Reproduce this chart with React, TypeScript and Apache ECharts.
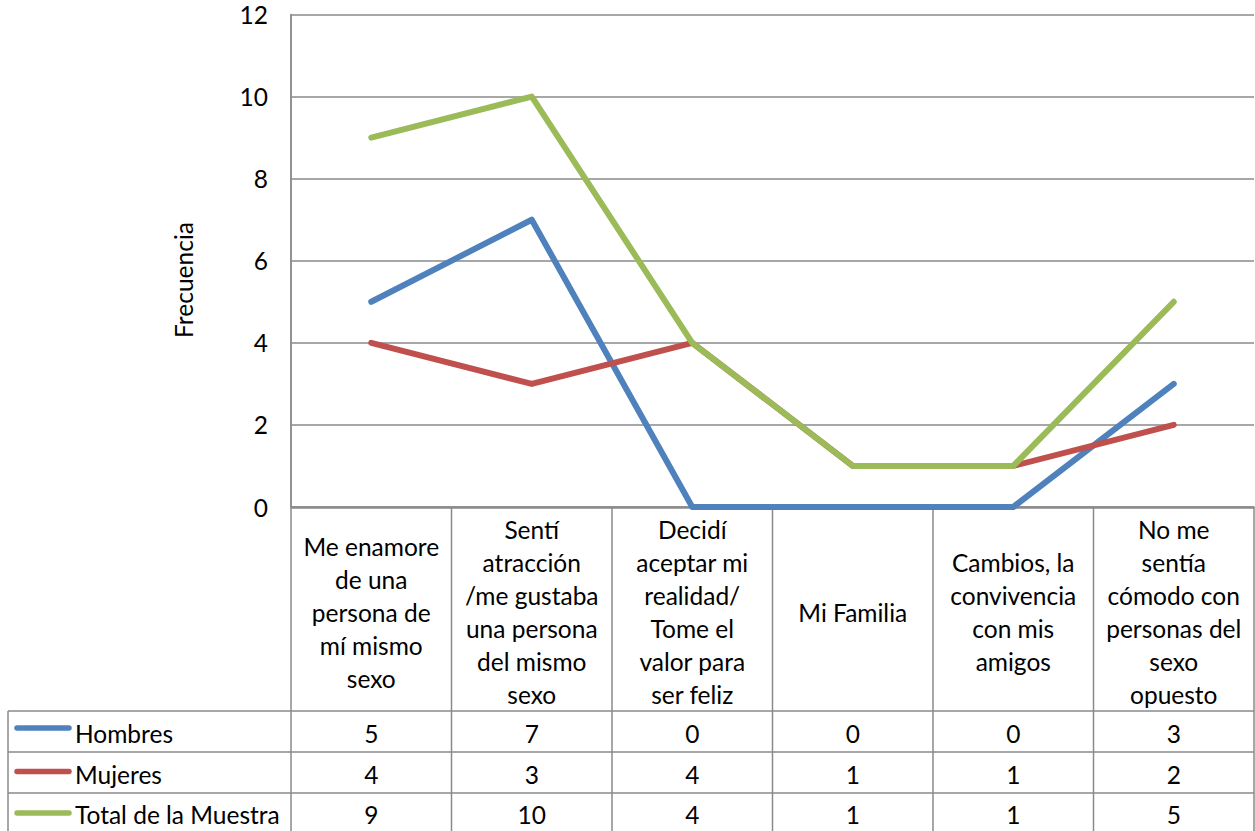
import React, { useEffect, useRef } from "react";
import * as echarts from "echarts";

const categories = [
  "Me enamore\nde una\npersona de\nmí mismo\nsexo",
  "Sentí\natracción\n/me gustaba\nuna persona\ndel mismo\nsexo",
  "Decidí\naceptar mi\nrealidad/\nTome el\nvalor para\nser feliz",
  "Mi Familia",
  "Cambios, la\nconvivencia\ncon mis\namigos",
  "No me\nsentía\ncómodo con\npersonas del\nsexo\nopuesto",
];
const seriesNames = ["Hombres", "Mujeres", "Total de la Muestra"];
const hombres = [5, 7, 0, 0, 0, 3];
const mujeres = [4, 3, 4, 1, 1, 2];
const total = [9, 10, 4, 1, 1, 5];
const seriesColors = ["#4F81BD", "#C0504D", "#9BBB59"];
const yTicks = { min: 0, max: 12, interval: 2 };
const yAxisTitle = "Frecuencia";

const W = 1255;
const H = 831;
const FONT = "Lato, 'DejaVu Sans', sans-serif";
const FS = 24.5;
const GRID_LEFT = 291;
const GRID_RIGHT_X = 1254;
const GRID_TOP = 14.5;
const AXIS_Y = 507;
const ROW_LINES = [711, 752, 793];
const ROW_CENTERS = [733.5, 774.5, 814.5];
const KEY_Y = [728, 771.5, 813];
const BORDER = "#8a8a8a";

export default function App() {
  const ref = useRef<HTMLDivElement>(null);
  useEffect(() => {
    if (!ref.current) return;
    const chart = echarts.init(ref.current, undefined, { renderer: "svg" });
    const values = [hombres, mujeres, total];
    const n = categories.length;
    const bandW = (GRID_RIGHT_X - GRID_LEFT) / n;

    const graphics: any[] = [];
    const ln = (x1: number, y1: number, x2: number, y2: number) =>
      graphics.push({
        type: "line",
        silent: true,
        shape: { x1, y1, x2, y2 },
        style: { stroke: BORDER, lineWidth: 1.5 },
      });
    ROW_LINES.forEach((y) => ln(8, y, GRID_RIGHT_X, y));
    ln(GRID_LEFT, AXIS_Y + 1, GRID_RIGHT_X, AXIS_Y + 1);
    ln(8, ROW_LINES[0], 8, H);
    for (let i = 0; i <= n; i++) {
      const x = GRID_LEFT + i * bandW;
      ln(x, i === 0 ? GRID_TOP : AXIS_Y, x, H);
    }
    seriesNames.forEach((name, i) => {
      graphics.push({
        type: "line",
        silent: true,
        shape: { x1: 17, y1: KEY_Y[i], x2: 69, y2: KEY_Y[i] },
        style: { stroke: seriesColors[i], lineWidth: 5.5, lineCap: "round" },
      });
      graphics.push({
        type: "text",
        silent: true,
        x: 75,
        y: ROW_CENTERS[i],
        style: {
          text: name,
          fontFamily: FONT,
          fontSize: FS,
          fill: "#000",
          verticalAlign: "middle",
          align: "left",
        },
      });
    });
    graphics.push({
      type: "text",
      silent: true,
      x: 183,
      y: 280,
      rotation: Math.PI / 2,
      style: {
        text: yAxisTitle,
        fontFamily: FONT,
        fontSize: FS,
        fill: "#000",
        align: "center",
        verticalAlign: "middle",
      },
    });

    const valueAxes = values.map((vals, i) => ({
      type: "category",
      gridIndex: 0,
      position: "bottom",
      data: categories,
      boundaryGap: true,
      axisLine: { show: false },
      axisTick: { show: false },
      splitLine: { show: false },
      axisLabel: {
        interval: 0,
        margin: ROW_CENTERS[i] - AXIS_Y,
        verticalAlign: "middle",
        fontFamily: FONT,
        fontSize: FS,
        color: "#000",
        formatter: (_v: string, idx: number) => String(vals[idx]),
      },
    }));

    chart.setOption({
      animation: false,
      textStyle: { fontFamily: FONT },
      grid: {
        left: GRID_LEFT,
        right: W - GRID_RIGHT_X,
        top: GRID_TOP,
        bottom: H - AXIS_Y,
        containLabel: false,
      },
      xAxis: [
        {
          type: "category",
          gridIndex: 0,
          position: "bottom",
          data: categories,
          boundaryGap: true,
          axisLine: { show: true, lineStyle: { color: BORDER, width: 1.5 } },
          axisTick: { show: false },
          splitLine: { show: false },
          axisLabel: {
            interval: 0,
            margin: 612 - AXIS_Y,
            verticalAlign: "middle",
            align: "center",
            fontFamily: FONT,
            fontSize: FS,
            lineHeight: 33,
            color: "#000",
          },
        },
        ...valueAxes,
      ],
      yAxis: {
        type: "value",
        min: yTicks.min,
        max: yTicks.max,
        interval: yTicks.interval,
        axisLine: { show: true, lineStyle: { color: BORDER, width: 1.5 } },
        axisTick: { show: false },
        splitLine: { show: true, lineStyle: { color: BORDER, width: 1.5 } },
        axisLabel: {
          margin: 23,
          fontFamily: FONT,
          fontSize: FS,
          color: "#000",
        },
      },
      series: values.map((vals, i) => ({
        name: seriesNames[i],
        type: "line",
        xAxisIndex: 0,
        data: vals,
        symbol: "none",
        color: seriesColors[i],
        lineStyle: {
          color: seriesColors[i],
          width: 6,
          cap: "round",
          join: "round",
        },
        z: 3 + i,
      })),
      graphic: graphics,
    });
    return () => chart.dispose();
  }, []);
  return (
    <div
      ref={ref}
      style={{ position: "absolute", left: 0, top: 0, width: W, height: H, background: "#fff" }}
    />
  );
}
